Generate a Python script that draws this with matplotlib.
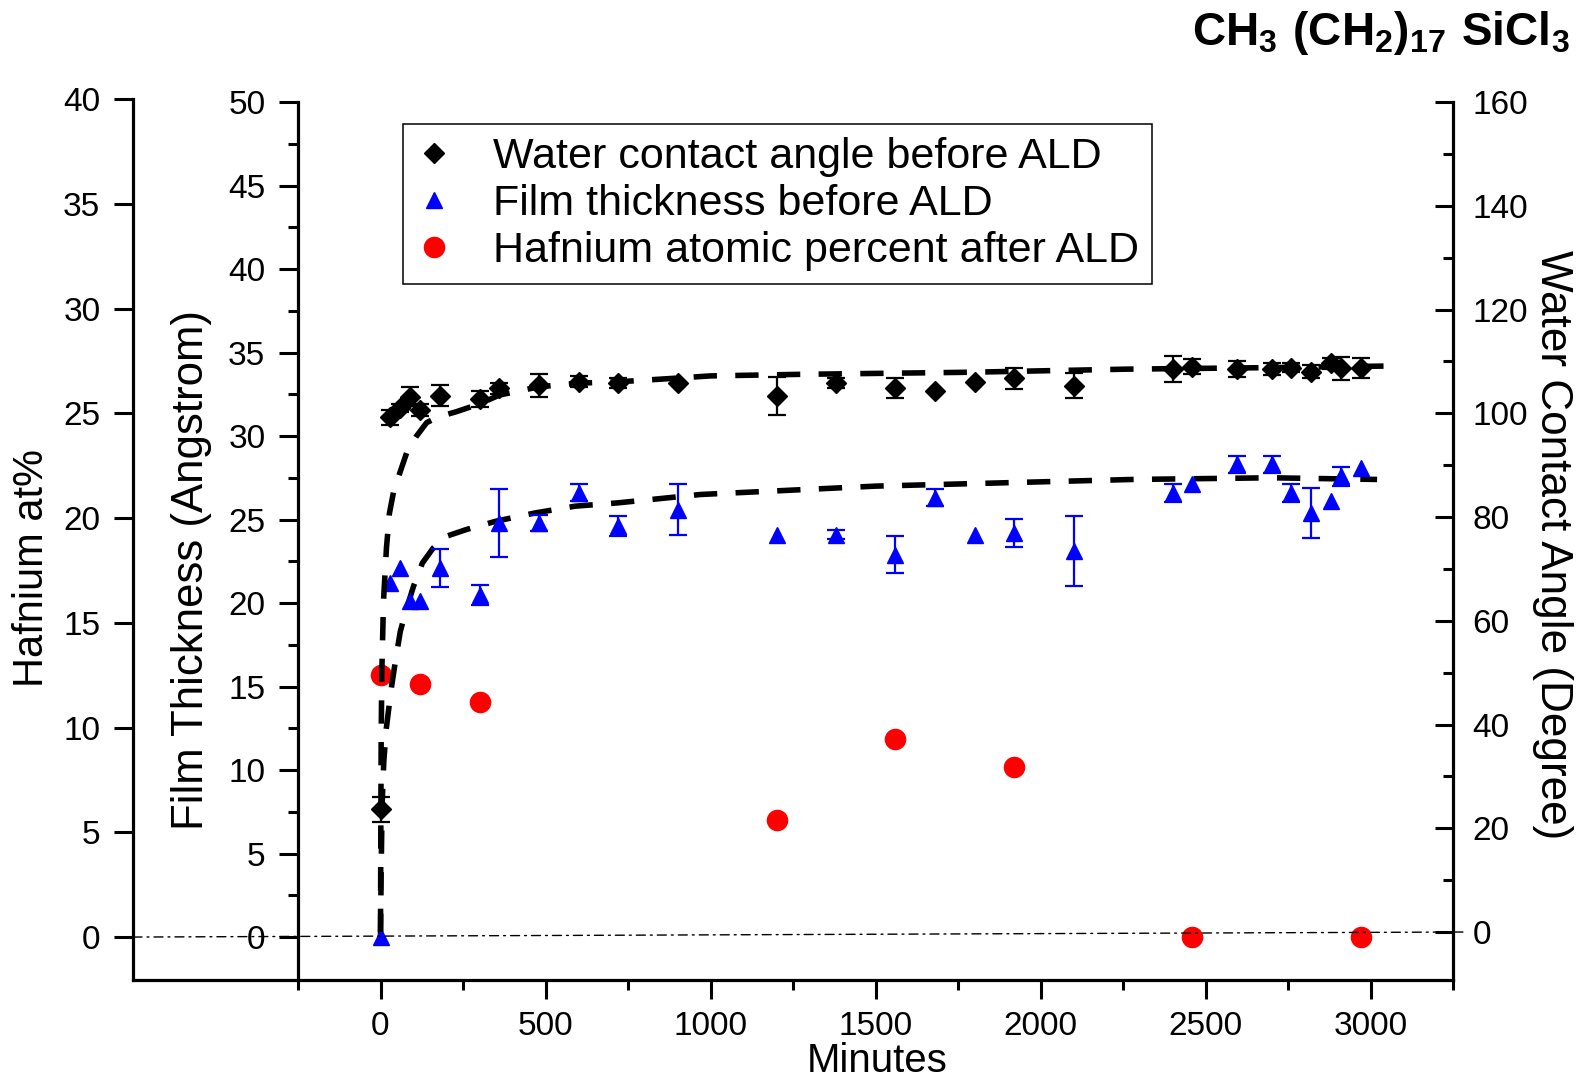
import numpy as np
import matplotlib
matplotlib.use('Agg')
import matplotlib.pyplot as plt
from matplotlib.patches import ConnectionPatch

plt.rcParams['font.family'] = ['Liberation Sans', 'DejaVu Sans']
plt.rcParams['mathtext.fontset'] = 'custom'
plt.rcParams['mathtext.rm'] = 'Liberation Sans'
plt.rcParams['mathtext.bf'] = 'Liberation Sans:bold'

# water contact angle before ALD (degree)
wca_t = np.array([0, 30, 60, 90, 120, 180, 300, 360, 480, 600, 720, 900, 1200, 1380, 1560,
                  1680, 1800, 1920, 2100, 2400, 2460, 2595, 2700, 2760, 2820, 2880, 2910, 2970])
wca_v = np.array([23.7, 99.2, 101.0, 103.2, 100.6, 103.4, 102.7, 104.8, 105.4, 106.1, 105.8, 105.9,
                  103.3, 105.8, 104.9, 104.2, 106.0, 106.7, 105.3, 108.5, 109.0, 108.5, 108.5,
                  108.8, 108.0, 109.6, 108.7, 108.7])
wca_err = np.array([2.4, 1.4, 0.8, 1.8, 1.2, 2.0, 1.5, 1.0, 2.2, 1.0, 1.0, 0.0, 3.7, 1.0, 1.9,
                    0.0, 0.0, 2.0, 2.4, 2.5, 1.5, 1.5, 1.2, 0.8, 1.3, 1.1, 2.2, 2.0])

# film thickness before ALD (Angstrom)
ft_t = np.array([0, 30, 60, 90, 120, 180, 300, 360, 480, 600, 720, 900, 1200, 1380, 1560,
                 1680, 1800, 1920, 2100, 2400, 2460, 2595, 2700, 2760, 2820, 2880, 2910, 2970])
ft_v = np.array([0.0, 21.2, 22.1, 20.1, 20.1, 22.1, 20.5, 24.8, 24.8, 26.6, 24.6, 25.6, 24.1,
                 24.1, 22.9, 26.3, 24.1, 24.2, 23.1, 26.6, 27.1, 28.3, 28.3, 26.6, 25.4, 26.1,
                 27.6, 28.1])
ft_err = np.array([0.0, 0.0, 0.0, 0.0, 0.0, 1.15, 0.6, 2.05, 0.5, 0.5, 0.6, 1.5, 0.0, 0.25,
                   1.1, 0.5, 0.0, 0.85, 2.1, 0.55, 0.0, 0.5, 0.5, 0.55, 1.5, 0.0, 0.57, 0.0])

# hafnium atomic percent after ALD
hf_t = np.array([0, 120, 300, 1200, 1560, 1920, 2460, 2970])
hf_v = np.array([12.5, 12.1, 11.2, 5.6, 9.45, 8.1, 0.0, 0.0])

# dashed fit curves
wfit_t = np.array([0, 1, 2, 4, 9, 18, 27, 40, 58, 80, 108, 140, 175, 230, 300, 360, 480, 600,
                   730, 880, 1000, 1270, 1780, 2260, 2700, 3050])
wfit_v = np.array([0, 20, 37, 50, 63.7, 74, 80.7, 85, 88.4, 92.5, 95.5, 98.2, 99.3, 100.3, 101.8,
                   103.5, 105.1, 105.8, 106.1, 106.7, 107.2, 107.5, 107.9, 108.5, 108.8, 109.1])
ffit_t = np.array([0, 2, 5, 10, 17, 32, 45, 60, 78, 100, 127, 160, 200, 260, 350, 470, 590, 720,
                   970, 1500, 2280, 2700, 3020])
ffit_v = np.array([0, 4, 8, 10.5, 12.4, 14.8, 16.5, 18.3, 19.6, 21.0, 22.4, 23.3, 24.0, 24.4,
                   24.9, 25.4, 25.8, 26.0, 26.5, 27.0, 27.4, 27.5, 27.4])

W, H = 1591, 1078
fig = plt.figure(figsize=(W / 100, H / 100), dpi=100)


def rect(top):
    return [133 / W, 1 - 980 / H, (1453 - 133) / W, (980 - top) / H]


ax_hf = fig.add_axes(rect(99))
ax_ft = fig.add_axes(rect(102))
ax_w = fig.add_axes(rect(102))
for a in (ax_ft, ax_w):
    a.patch.set_visible(False)
for a in (ax_hf, ax_ft, ax_w):
    a.set_xlim(-750, 3250)
    for s in a.spines.values():
        s.set_visible(False)
        s.set_linewidth(2.3)

# hafnium axis (outer left) + x axis
ax_hf.spines['left'].set_visible(True)
ax_hf.spines['bottom'].set_visible(True)
ax_hf.set_ylim(-2.05, 40)
ax_hf.set_yticks(np.arange(0, 41, 5))
ax_hf.set_xticks(np.arange(0, 3001, 500))
ax_hf.set_xticks(np.arange(-250, 3251, 500), minor=True)
ax_hf.tick_params(axis='y', direction='out', length=13.5, width=2.2, labelsize=24, pad=10)
ax_hf.tick_params(axis='x', which='major', direction='out', length=14, width=2.2, labelsize=24, pad=8)
ax_hf.tick_params(axis='x', which='minor', direction='out', length=7.5, width=2.2)
ax_hf.set_xlabel('Minutes', fontsize=29, va='center')
ax_hf.xaxis.set_label_coords((877 - 133) / 1320, (980 - 1061) / 881)
ax_hf.set_ylabel('Hafnium at%', fontsize=30, va='center')
ax_hf.yaxis.set_label_coords((32 - 133) / 1320, (980 - 568) / 881)

# film thickness axis (inner left)
ax_ft.spines['left'].set_visible(True)
ax_ft.spines['left'].set_position(('data', -250))
ax_ft.set_ylim(-2.57, 50)
ax_ft.set_yticks(np.arange(0, 51, 5))
ax_ft.set_yticks(np.arange(2.5, 50, 5), minor=True)
ax_ft.tick_params(axis='y', which='major', direction='out', length=13.5, width=2.2, labelsize=24, pad=10)
ax_ft.tick_params(axis='y', which='minor', direction='out', length=7, width=2.2)
ax_ft.tick_params(axis='x', which='both', bottom=False, labelbottom=False)
ax_ft.set_ylabel('Film Thickness (Angstrom)', fontsize=31.5, va='center')
ax_ft.yaxis.set_label_coords((192 - 133) / 1320, (980 - 570) / 878)

# water contact angle axis (right)
ax_w.spines['right'].set_visible(True)
ax_w.yaxis.tick_right()
ax_w.yaxis.set_label_position('right')
ax_w.set_ylim(-9.25, 160)
ax_w.set_yticks(np.arange(0, 161, 20))
ax_w.set_yticks(np.arange(10, 160, 20), minor=True)
ax_w.tick_params(axis='y', which='major', direction='in', length=13, width=2.2, labelsize=24, pad=14)
ax_w.tick_params(axis='y', which='minor', direction='in', length=7, width=2.2)
ax_w.tick_params(axis='x', which='both', bottom=False, labelbottom=False)
ax_w.set_ylabel('Water Contact Angle (Degree)', fontsize=31.8, rotation=-90, va='center')
ax_w.yaxis.set_label_coords((1552 - 133) / 1320, (980 - 545) / 878)

# zero reference line
zero = ConnectionPatch(xyA=(-750, 0), coordsA=ax_hf.transData, xyB=(3280, 0), coordsB=ax_w.transData,
                       color='k', lw=1.0, linestyle=(0, (6.5, 3.6, 1.4, 3.6)))
fig.add_artist(zero)

# data
h3, = ax_hf.plot(hf_t, hf_v, 'o', color='#ff0000', ms=14.5, mec='#ff0000', ls='none')

ax_ft.plot(ffit_t, ffit_v, color='k', lw=4, linestyle=(0, (4.2, 3.3)))
m = ft_err > 0
ax_ft.errorbar(ft_t[m], ft_v[m], yerr=ft_err[m], fmt='none', ecolor='#0000ff',
               elinewidth=1.6, capsize=6.5, capthick=1.6)
h2, = ax_ft.plot(ft_t, ft_v, '^', color='#0000ff', ms=12, ls='none')

ax_w.plot(wfit_t, wfit_v, color='k', lw=4, linestyle=(0, (4.2, 3.3)))
m = wca_err > 0
ax_w.errorbar(wca_t[m], wca_v[m], yerr=wca_err[m], fmt='none', ecolor='k',
              elinewidth=1.6, capsize=6.5, capthick=1.6)
h1, = ax_w.plot(wca_t, wca_v, 'D', color='k', ms=10, ls='none')

leg = ax_w.legend([h1, h2, h3],
                  ['Water contact angle before ALD', 'Film thickness before ALD',
                   'Hafnium atomic percent after ALD'],
                  loc='upper left', bbox_to_anchor=(403 / W, 1 - 124 / H),
                  bbox_transform=fig.transFigure, borderaxespad=0, fontsize=31,
                  numpoints=1, fancybox=False, framealpha=1, edgecolor='k',
                  borderpad=0.3, labelspacing=0.16, handlelength=0.85, handletextpad=0.95)
leg.get_frame().set_linewidth(1.1)

fig.text(1570 / W, 1 - 33 / H, r'$\mathbf{CH_3\ (CH_2)_{17}\ SiCl_3}$', fontsize=33,
         ha='right', va='center')

fig.savefig('out.png', dpi=100)
